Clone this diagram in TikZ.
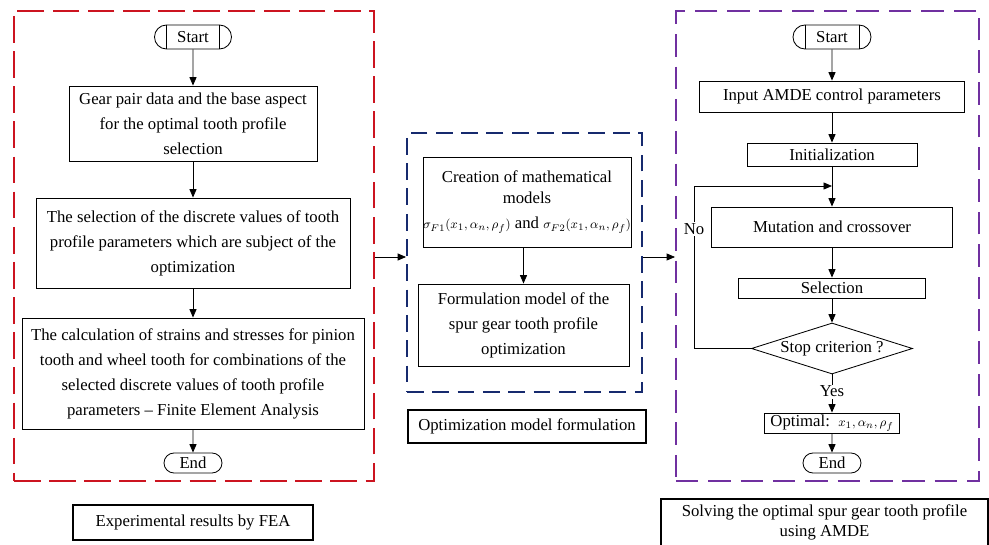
\documentclass[tikz,border=0pt]{standalone}
\usepackage{amsmath}
\usepackage{fontspec}
\setmainfont{Liberation Serif}
\usetikzlibrary{positioning,arrows.meta,shapes.misc,shapes.geometric}

\definecolor{framered}{RGB}{204,20,32}
\definecolor{frameblue}{RGB}{22,42,110}
\definecolor{framepurple}{RGB}{112,48,160}

\newcommand{\smallmath}[1]{{\fontsize{9.5}{11}\selectfont$#1$}}

\tikzset{
  txt/.style={font=\fontsize{11.9}{17.8}\selectfont, align=center},
  stepbox/.style={draw, line width=0.6pt, txt, inner sep=0pt},
  terminal/.style={draw, rounded rectangle, line width=0.6pt, txt, inner sep=0pt, minimum height=0.6cm},
  frame/.style={draw, dash pattern=on 19pt off 6pt, line width=1.3pt, inner sep=0pt},
  caption/.style={draw, line width=1.3pt, txt, inner sep=0pt},
  arr/.style={-{Triangle[length=6pt,width=5pt]}, line width=0.6pt},
}

\begin{document}
\begin{tikzpicture}[x=0.025cm,y=-0.025cm]
\useasboundingbox (0,0) rectangle (989,545);

% dashed frames
\node[frame, framered, minimum width=9cm, minimum height=11.75cm] (fea) at (194,246) {};
\node[frame, frameblue, dash pattern=on 12pt off 6pt, minimum width=5.875cm, minimum height=6.475cm] (model) at (524.5,262.5) {};
\node[frame, framepurple, dash pattern=on 16pt off 7pt, minimum width=7.575cm, minimum height=11.75cm] (amde) at (827.5,246) {};

% left flow
\node[terminal, minimum width=1.925cm] (startL) at (193,37) {Start};
\draw[line width=0.6pt] ([xshift=-0.6625cm]startL.north) -- ([xshift=-0.6625cm]startL.south)
  ([xshift=0.6625cm]startL.north) -- ([xshift=0.6625cm]startL.south);
\node[stepbox, minimum width=6.2cm, minimum height=1.875cm] (gear) at (193,123.5)
  {Gear pair data and the base aspect\\for the optimal tooth profile\\selection};
\node[stepbox, minimum width=7.85cm, minimum height=2.25cm] (discrete) at (193,243)
  {The selection of the discrete values of tooth\\profile parameters which are subject of the\\optimization};
\node[stepbox, minimum width=8.55cm, minimum height=2.775cm] (fem) at (193,373.5)
  {The calculation of strains and stresses for pinion\\tooth and wheel tooth for combinations of the\\selected discrete values of tooth profile\\parameters -- Finite Element Analysis};
\node[terminal, minimum width=1.45cm, minimum height=0.5cm] (endL) at (193,463) {End};
\node[caption, minimum width=6cm, minimum height=0.875cm] (feacap) at (193,522.5) {Experimental results by FEA};

\draw[arr] (startL) -- (gear);
\draw[arr] (gear) -- (discrete);
\draw[arr] (discrete) -- (fem);
\draw[arr] (fem) -- (endL);

% middle flow
\node[stepbox, minimum width=5.2cm, minimum height=2.25cm, font=\fontsize{11.9}{15}\selectfont] (creation) at (527,202)
  {Creation of mathematical\\models\\[3pt] \smallmath{\sigma_{F1}(x_1,\alpha_n,\rho_f)} and \smallmath{\sigma_{F2}(x_1,\alpha_n,\rho_f)}};
\node[stepbox, minimum width=5.275cm, minimum height=2.05cm] (formulation) at (523.5,325)
  {Formulation model of the\\spur gear tooth profile\\optimization};
\node[caption, minimum width=5.95cm, minimum height=0.825cm] (modelcap) at (527,426.5) {Optimization model formulation};

\draw[arr] (formulation.north |- creation.south) -- (formulation.north);

% right flow
\node[terminal, minimum width=1.95cm] (startR) at (832,37) {Start};
\draw[line width=0.6pt] ([xshift=-0.675cm]startR.north) -- ([xshift=-0.675cm]startR.south)
  ([xshift=0.675cm]startR.north) -- ([xshift=0.675cm]startR.south);
\node[stepbox, minimum width=6.625cm, minimum height=0.775cm] (input) at (832,96.5) {Input AMDE control parameters};
\node[stepbox, minimum width=4.25cm, minimum height=0.575cm] (init) at (832,154.5) {Initialization};
\node[stepbox, minimum width=6.025cm, minimum height=1cm] (mutation) at (832,227) {Mutation and crossover};
\node[stepbox, minimum width=4.675cm, minimum height=0.5cm] (selection) at (832,288) {Selection};
\node[draw, diamond, aspect=3.15, line width=0.6pt, txt, inner sep=0pt, minimum width=4.025cm, minimum height=1.275cm] (stop) at (832,348.5) {Stop criterion ?};
\node[stepbox, minimum width=3.375cm, minimum height=0.5cm] (optimal) at (832,423) {Optimal:~~\smallmath{x_1,\alpha_n,\rho_f}};
\node[terminal, minimum width=1.45cm, minimum height=0.5cm] (endR) at (832,463) {End};
\node[caption, minimum width=8.175cm, minimum height=1.175cm, font=\fontsize{11.9}{14.5}\selectfont] (amdecap) at (824.5,522.5)
  {Solving the optimal spur gear tooth profile\\using AMDE};

\coordinate (join) at (832,186);
\coordinate (loopx) at (694,0);
\draw[arr] (startR) -- (input);
\draw[arr] (input) -- (init);
\draw[line width=0.6pt] (init) -- (join);
\draw[arr] (join) -- (mutation);
\draw[arr] (mutation) -- (selection);
\draw[arr] (selection) -- (stop);
\draw[arr] (stop.west) -- (stop.west -| loopx) |- (join);
\node[fill=white, txt, inner sep=1pt] (no) at (694,229) {No};
\draw[arr] (stop) -- node[fill=white, txt, inner sep=1pt, pos=0.45] (yes) {Yes} (optimal);
\draw[arr] (optimal) -- (endR);

% links between the frames
\coordinate (link) at (0,257);
\draw[arr] (fea.east |- link) -- (model.west |- link);
\draw[arr] (model.east |- link) -- (amde.west |- link);
\end{tikzpicture}
\end{document}
